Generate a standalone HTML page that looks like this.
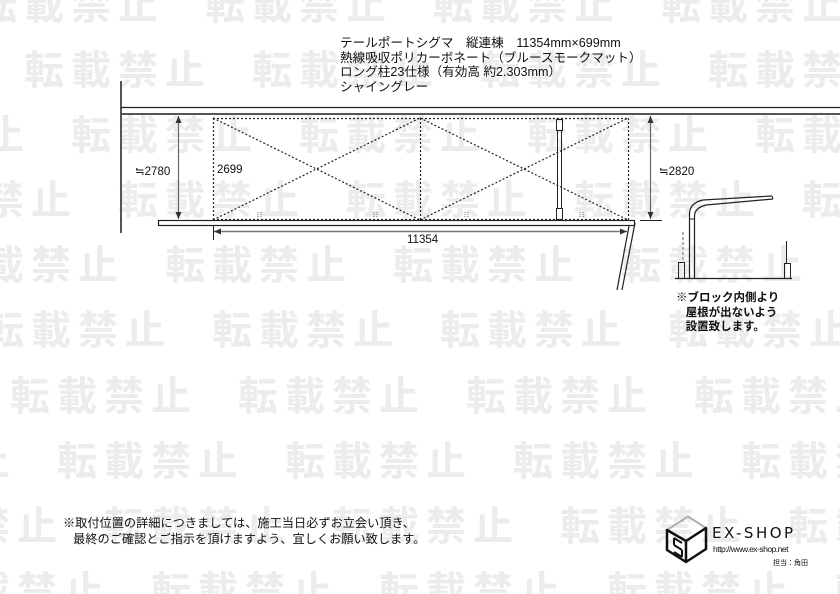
<!DOCTYPE html>
<html><head><meta charset="utf-8"><style>
html,body{margin:0;padding:0;background:#fff}
body{width:840px;height:594px;position:relative;overflow:hidden;font-family:"Liberation Sans","Noto Sans CJK JP",sans-serif}
.wr{position:absolute;left:0;top:0;width:840px;height:594px;overflow:hidden}
.wm{position:absolute;left:0;width:1200px;white-space:nowrap;font-family:"Noto Sans CJK JP",sans-serif;font-weight:bold;font-size:40px;line-height:40px;color:#ececec;letter-spacing:7px}
.wm span{display:inline-block;width:228px}
svg{position:absolute;left:0;top:0}
.t{position:absolute;color:#111;white-space:nowrap;font-family:"Liberation Sans","Noto Sans CJK JP",sans-serif}
</style></head><body>
<div class="wr">
<div class="wm" style="top:-18px;left:-23px"><span>転載禁止</span><span>転載禁止</span><span>転載禁止</span><span>転載禁止</span><span>転載禁止</span></div>
<div class="wm" style="top:47px;left:-204px"><span>転載禁止</span><span>転載禁止</span><span>転載禁止</span><span>転載禁止</span><span>転載禁止</span></div>
<div class="wm" style="top:112px;left:-157px"><span>転載禁止</span><span>転載禁止</span><span>転載禁止</span><span>転載禁止</span><span>転載禁止</span></div>
<div class="wm" style="top:177px;left:-110px"><span>転載禁止</span><span>転載禁止</span><span>転載禁止</span><span>転載禁止</span><span>転載禁止</span></div>
<div class="wm" style="top:242px;left:-63px"><span>転載禁止</span><span>転載禁止</span><span>転載禁止</span><span>転載禁止</span><span>転載禁止</span></div>
<div class="wm" style="top:307px;left:-16px"><span>転載禁止</span><span>転載禁止</span><span>転載禁止</span><span>転載禁止</span><span>転載禁止</span></div>
<div class="wm" style="top:373px;left:10px"><span>転載禁止</span><span>転載禁止</span><span>転載禁止</span><span>転載禁止</span><span>転載禁止</span></div>
<div class="wm" style="top:438px;left:-171px"><span>転載禁止</span><span>転載禁止</span><span>転載禁止</span><span>転載禁止</span><span>転載禁止</span></div>
<div class="wm" style="top:503px;left:-124px"><span>転載禁止</span><span>転載禁止</span><span>転載禁止</span><span>転載禁止</span><span>転載禁止</span></div>
<div class="wm" style="top:568px;left:-77px"><span>転載禁止</span><span>転載禁止</span><span>転載禁止</span><span>転載禁止</span><span>転載禁止</span></div>
</div>

<svg width="840" height="594" viewBox="0 0 840 594">
<defs>
<marker id="a" markerWidth="8" markerHeight="8" refX="7" refY="4" orient="auto" markerUnits="userSpaceOnUse"><path d="M0,1 L7,4 L0,7 z" fill="#333"/></marker>
<marker id="b" markerWidth="8" markerHeight="8" refX="1" refY="4" orient="auto" markerUnits="userSpaceOnUse"><path d="M8,1 L1,4 L8,7 z" fill="#333"/></marker>
</defs>
<g fill="none" stroke="#222">
<line x1="121" y1="81" x2="121" y2="233" stroke-width="2" stroke="#555"/>
<line x1="121" y1="107.5" x2="840" y2="107.5" stroke-width="1.2"/>
<line x1="121" y1="114" x2="840" y2="114" stroke-width="2" stroke="#555"/>
<rect x="158.5" y="220.5" width="476" height="5" stroke-width="1.2"/>
<line x1="635" y1="223" x2="622" y2="290" stroke-width="1.2"/>
<line x1="629" y1="226" x2="617" y2="290" stroke-width="1.2"/>
<g stroke-dasharray="2,2" stroke-width="1.2">
<line x1="213" y1="118.5" x2="628" y2="118.5"/>
<line x1="213" y1="219.5" x2="628" y2="219.5"/>
<line x1="213.5" y1="118" x2="213.5" y2="220"/>
<line x1="420.5" y1="118" x2="420.5" y2="220"/>
<line x1="628.5" y1="118" x2="628.5" y2="220"/>
<line x1="213" y1="118" x2="420" y2="220"/>
<line x1="213" y1="220" x2="420" y2="118"/>
<line x1="420" y1="118" x2="628" y2="220"/>
<line x1="420" y1="220" x2="628" y2="118"/>
</g>
<rect x="556.5" y="119.5" width="6" height="11" stroke-width="1"/>
<rect x="557.5" y="130.5" width="4" height="78" stroke-width="1"/>
<rect x="556.5" y="208.5" width="6" height="11" stroke-width="1"/>
<line x1="178.5" y1="116" x2="178.5" y2="219" stroke="#666" stroke-width="1.2" marker-start="url(#b)" marker-end="url(#a)"/>
<line x1="650.5" y1="116" x2="650.5" y2="219" stroke="#666" stroke-width="1.2" marker-start="url(#b)" marker-end="url(#a)"/>
<line x1="640" y1="220.5" x2="662" y2="220.5" stroke-width="1"/>
<line x1="214" y1="231.5" x2="627" y2="231.5" stroke="#777" stroke-width="1.5" marker-start="url(#b)" marker-end="url(#a)"/>
<line x1="213.5" y1="226" x2="213.5" y2="240" stroke-width="1"/>
<g stroke="#666" stroke-width="1" stroke-dasharray="1,1">
<line x1="258" y1="212" x2="258" y2="218"/><line x1="261" y1="212" x2="261" y2="218"/>
<line x1="374" y1="212" x2="374" y2="218"/><line x1="377" y1="212" x2="377" y2="218"/>
<line x1="465" y1="212" x2="465" y2="218"/><line x1="468" y1="212" x2="468" y2="218"/>
<line x1="580" y1="212" x2="580" y2="218"/><line x1="583" y1="212" x2="583" y2="218"/>
</g>
<line x1="675" y1="278.5" x2="792" y2="278.5" stroke-width="1.2"/>
<rect x="678.5" y="262.5" width="6" height="16" stroke-width="1"/>
<rect x="784.5" y="263.5" width="6" height="15" stroke-width="1"/>
<line x1="786.5" y1="241" x2="786.5" y2="263" stroke-width="1"/>
<line x1="683" y1="232" x2="683" y2="262" stroke="#999" stroke-width="1.5" stroke-dasharray="3,2"/>
<path d="M689.5,278 V214 Q689.5,203 703,200 L772,196" stroke-width="1.2"/>
<path d="M694.5,278 V216 Q694.5,208 706,205 L773,199" stroke-width="1.2"/>
<path d="M772,196 L773,199" stroke-width="1"/>
<path d="M690,219 H694" stroke-width="1"/>
<path d="M667,530 L688,516.5 L706,528 L686,541 Z" stroke="#aab2b2" stroke-width="2"/>
<path d="M667,530 L686,541 L686,562 L667,550 Z M686,541 L706,528 L706,549 L686,562" stroke="#111" stroke-width="2.5" stroke-linejoin="round"/>
<path d="M674,538 L682,543 M674,545 L682,550 M674,552 L682,557 M674,538 V545 M682,550 V557" stroke="#111" stroke-width="2"/>
</g>
</svg>

<div class="t" style="left:340px;top:36px;font-size:12.6px;line-height:14.6px">テールポートシグマ　縦連棟　11354mm×699mm<br>熱線吸収ポリカーボネート（ブルースモークマット）<br>ロング柱23仕様（有効高 約2.303mm）<br>シャイングレー</div>
<div class="t" style="left:135px;top:164px;font-size:11.5px">≒2780</div>
<div class="t" style="left:217px;top:164px;font-size:11.5px">2699</div>
<div class="t" style="left:659px;top:164px;font-size:11.5px">≒2820</div>
<div class="t" style="left:407px;top:234px;font-size:11.5px">11354</div>
<div class="t" style="left:676px;top:291px;font-size:11.5px;line-height:14.5px;font-weight:bold">※ブロック内側より<br>&nbsp;&nbsp;&nbsp;屋根が出ないよう<br>&nbsp;&nbsp;&nbsp;設置致します。</div>
<div class="t" style="left:63px;top:516px;font-size:12.2px;line-height:15.5px">※取付位置の詳細につきましては、施工当日必ずお立会い頂き、<br>&nbsp;&nbsp;&nbsp;最終のご確認とご指示を頂けますよう、宜しくお願い致します。</div>
<div class="t" style="left:712px;top:524px;font-size:15px;letter-spacing:2.5px;font-family:'DejaVu Sans',sans-serif">EX-SHOP</div>
<div class="t" style="left:713px;top:544px;font-size:8.5px;letter-spacing:-0.5px">http://www.ex-shop.net</div>
<div class="t" style="left:773px;top:558px;font-size:7px">担当：角田</div>
</body></html>
